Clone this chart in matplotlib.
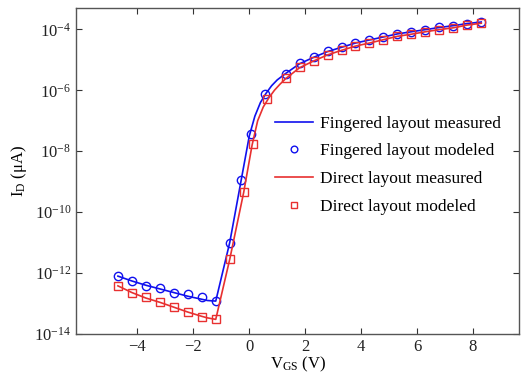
import numpy as np
import matplotlib
matplotlib.use("Agg")
import matplotlib.pyplot as plt

# Modeled points (V_GS, log10 I_D)
vgs_mod = [-4.7, -4.2, -3.7, -3.2, -2.7, -2.2, -1.7, -1.2, -0.7, -0.3, 0.05, 0.57,
           1.3, 1.8, 2.3, 2.8, 3.3, 3.8, 4.3, 4.8, 5.3, 5.8, 6.3, 6.8, 7.3, 7.8, 8.3]
fing_mod_log = [-12.10, -12.25, -12.41, -12.48, -12.65, -12.70, -12.78, -12.92, -11.0, -8.95, -7.45, -6.12,
                -5.45, -5.12, -4.92, -4.72, -4.59, -4.44, -4.36, -4.25, -4.14, -4.09, -4.01, -3.94, -3.89, -3.81, -3.76]
vgs_dir_mod = [-4.7, -4.2, -3.7, -3.2, -2.7, -2.2, -1.7, -1.2, -0.7, -0.2, 0.12, 0.63,
               1.3, 1.8, 2.3, 2.8, 3.3, 3.8, 4.3, 4.8, 5.3, 5.8, 6.3, 6.8, 7.3, 7.8, 8.3]
dir_mod_log = [-12.42, -12.66, -12.80, -12.94, -13.12, -13.29, -13.43, -13.52, -11.55, -9.33, -7.75, -6.30,
               -5.60, -5.25, -5.03, -4.83, -4.69, -4.54, -4.45, -4.34, -4.22, -4.16, -4.08, -4.01, -3.95, -3.86, -3.80]

# Measured curves
vgs_meas = [-4.7, -4.2, -3.7, -3.2, -2.7, -2.2, -1.7, -1.5, -1.2, -0.7, -0.3, 0.0, 0.2, 0.4, 0.6,
            0.8, 1.0, 1.3, 1.8, 2.3, 2.8, 3.3, 3.8, 4.3, 4.8, 5.3, 5.8, 6.3, 6.8, 7.3, 7.8, 8.3]
fing_meas_log = [-12.10, -12.26, -12.40, -12.52, -12.64, -12.76, -12.86, -12.90, -12.92, -11.0, -9.0, -7.5, -6.85, -6.40, -6.10,
                 -5.85, -5.66, -5.45, -5.13, -4.92, -4.73, -4.59, -4.45, -4.35, -4.25, -4.15, -4.08, -4.01, -3.94, -3.88, -3.81, -3.76]
vgs_dir_meas = [-4.7, -4.2, -3.7, -3.2, -2.7, -2.2, -1.7, -1.5, -1.2, -0.7, -0.2, 0.1, 0.3, 0.5, 0.7,
                0.9, 1.1, 1.3, 1.8, 2.3, 2.8, 3.3, 3.8, 4.3, 4.8, 5.3, 5.8, 6.3, 6.8, 7.3, 7.8, 8.3]
dir_meas_log = [-12.42, -12.64, -12.82, -12.96, -13.12, -13.28, -13.42, -13.47, -13.52, -11.55, -9.35, -7.8, -7.0, -6.55, -6.25,
                -6.0, -5.80, -5.62, -5.26, -5.04, -4.84, -4.69, -4.55, -4.45, -4.34, -4.23, -4.16, -4.08, -4.01, -3.95, -3.86, -3.80]

xticks = [-4, -2, 0, 2, 4, 6, 8]
yticks_exp = [-14, -12, -10, -8, -6, -4]

plt.rcParams['font.family'] = ['Liberation Serif', 'DejaVu Serif']
plt.rcParams['mathtext.fontset'] = 'custom'
plt.rcParams['mathtext.rm'] = 'Liberation Serif'
plt.rcParams['mathtext.it'] = 'Liberation Serif'

fig = plt.figure(figsize=(5.21, 3.77), dpi=100)
ax = fig.add_axes([76/521, (377-334)/377, (519-76)/521, (334-8.3)/377])

blue = '#1010ee'
red = '#e83030'
p = lambda a: np.power(10.0, np.array(a))
ax.plot(vgs_meas, p(fing_meas_log), '-', color=blue, lw=1.2, label='Fingered layout measured')
ax.plot(vgs_mod, p(fing_mod_log), 'o', mfc='none', mec=blue, ms=6, mew=1.0, label='Fingered layout modeled')
ax.plot(vgs_dir_meas, p(dir_meas_log), '-', color=red, lw=1.2, label='Direct layout measured')
ax.plot(vgs_dir_mod, p(dir_mod_log), 's', mfc='none', mec=red, ms=6, mew=1.0, label='Direct layout modeled')

ax.set_yscale('log')
ax.set_xlim(-6.2, 9.65)
ax.set_ylim(1e-14, 10**-3.31)
ax.set_xticks(xticks)
ax.set_xticklabels([f'\u2212{abs(t)}' if t < 0 else str(t) for t in xticks])
ax.set_yticks([10.0**e for e in yticks_exp])
ax.set_yticklabels([f'$10^{{{e}}}$'.replace('-', '\u2212') for e in yticks_exp])
ax.minorticks_off()
ax.tick_params(direction='in', top=True, right=True, labelsize=12, length=4, colors='#333333', labelcolor='#222222')
for s in ax.spines.values():
    s.set_color('#555555')
    s.set_linewidth(1.0)

ax.set_xlabel('V$_{\\mathrm{GS}}$ (V)', fontsize=12, labelpad=0)
ax.set_ylabel('I$_{\\mathrm{D}}$ (\u03bcA)', fontsize=12, labelpad=4)

leg = ax.legend(loc='upper left', bbox_to_anchor=(0.43, 0.697), frameon=False, fontsize=12.5,
                handlelength=2.2, handletextpad=0.4, labelspacing=0.66, borderpad=0, markerscale=0.8)

fig.savefig('out.png', dpi=100)
